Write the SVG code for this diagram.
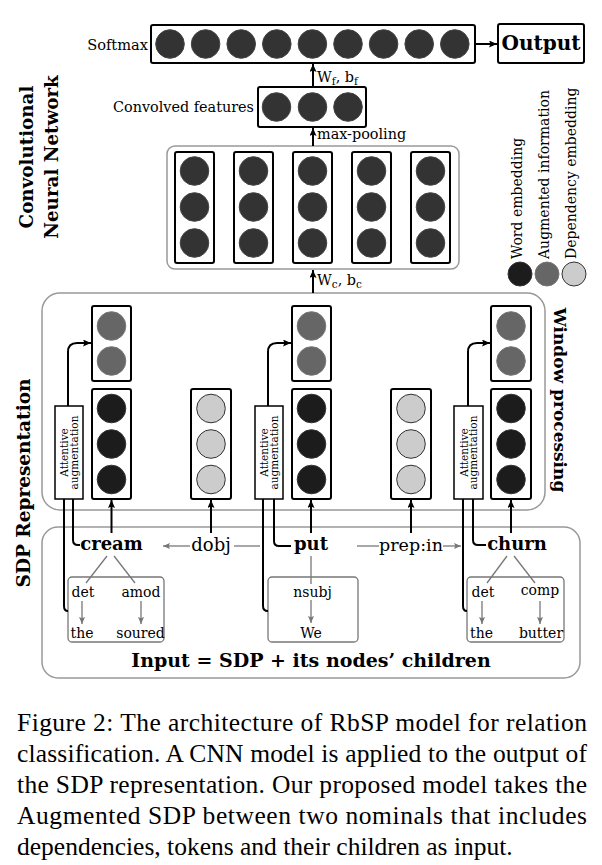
<svg xmlns="http://www.w3.org/2000/svg" width="602" height="865" viewBox="0 0 602 865">
<style>
.t{font-family:"DejaVu Serif",serif;fill:#000}
.b{font-weight:bold}
.box{fill:#fff;stroke:#000;stroke-width:2}
.cont{fill:none;stroke:#999;stroke-width:1.5}
.cbox{fill:#fff;stroke:#777;stroke-width:1.3}
.dk{fill:#333;stroke:#444;stroke-width:1}
.wd{fill:#1c1c1c;stroke:#333;stroke-width:1}
.au{fill:#666;stroke:#777;stroke-width:1}
.dp{fill:#ccc;stroke:#333;stroke-width:1}
.ln{fill:none;stroke:#000;stroke-width:2}
.gl{fill:none;stroke:#777;stroke-width:1.3}
.cap{font-family:"Liberation Serif","Times New Roman",serif;font-size:25.5px;fill:#000}
</style>
<defs>
<marker id="ah" markerWidth="8" markerHeight="7" refX="8" refY="3.5" orient="auto" markerUnits="userSpaceOnUse"><path d="M0,0 L8,3.5 L0,7 L1.5,3.5 Z" fill="#000"/></marker>
<marker id="ahg" markerWidth="7" markerHeight="6" refX="7" refY="3" orient="auto" markerUnits="userSpaceOnUse"><path d="M0,0 L7,3 L0,6 L1.3,3 Z" fill="#777"/></marker>
</defs>

<!-- side labels -->
<g id="labels">
<text class="t b" font-size="18.3" text-anchor="middle" transform="translate(33,157) rotate(-90)">Convolutional</text>
<text class="t b" font-size="18.3" text-anchor="middle" transform="translate(58,157) rotate(-90)">Neural Network</text>
<text class="t b" font-size="18.5" text-anchor="middle" transform="translate(30,483) rotate(-90)">SDP Representation</text>
<text class="t b" font-size="17" text-anchor="middle" transform="translate(554,400) rotate(90)">Window processing</text>
</g>

<!-- containers -->
<g id="containers">
<rect class="cont" x="167" y="146" width="292" height="123" rx="8"/>
<rect class="cont" x="42" y="293" width="503" height="217" rx="18"/>
<rect class="cont" x="42" y="527" width="538" height="151" rx="16"/>
</g>

<!-- softmax -->
<g id="softmax">
<text class="t" font-size="14.6" text-anchor="end" x="148" y="49.5">Softmax</text>
<rect class="box" x="151" y="25" width="324" height="38" rx="2"/>
<circle class="dk" cx="170" cy="44" r="14.3"/>
<circle class="dk" cx="205.6" cy="44" r="14.3"/>
<circle class="dk" cx="241.2" cy="44" r="14.3"/>
<circle class="dk" cx="276.8" cy="44" r="14.3"/>
<circle class="dk" cx="312.4" cy="44" r="14.3"/>
<circle class="dk" cx="348" cy="44" r="14.3"/>
<circle class="dk" cx="383.6" cy="44" r="14.3"/>
<circle class="dk" cx="419.2" cy="44" r="14.3"/>
<circle class="dk" cx="454.8" cy="44" r="14.3"/>
</g>

<g id="output">
<rect class="box" x="498" y="24" width="86" height="39" rx="2"/>
<text class="t b" font-size="20" text-anchor="middle" x="541" y="50">Output</text>
</g>

<g id="convolved">
<text class="t" font-size="14.4" text-anchor="end" x="254" y="112">Convolved features</text>
<rect class="box" x="258" y="87" width="108" height="40" rx="2"/>
<circle class="dk" cx="276.5" cy="107" r="14.3"/>
<circle class="dk" cx="312.5" cy="107" r="14.3"/>
<circle class="dk" cx="348" cy="107" r="14.3"/>
</g>

<g id="cnn">
<rect class="box" x="175" y="152" width="39" height="111" rx="2"/>
<rect class="box" x="234" y="152" width="39" height="111" rx="2"/>
<rect class="box" x="293" y="152" width="39" height="111" rx="2"/>
<rect class="box" x="352" y="152" width="39" height="111" rx="2"/>
<rect class="box" x="411" y="152" width="39" height="111" rx="2"/>
<g>
<circle class="dk" cx="194.5" cy="171" r="14.3"/><circle class="dk" cx="194.5" cy="207" r="14.3"/><circle class="dk" cx="194.5" cy="243" r="14.3"/>
<circle class="dk" cx="253.5" cy="171" r="14.3"/><circle class="dk" cx="253.5" cy="207" r="14.3"/><circle class="dk" cx="253.5" cy="243" r="14.3"/>
<circle class="dk" cx="312.5" cy="171" r="14.3"/><circle class="dk" cx="312.5" cy="207" r="14.3"/><circle class="dk" cx="312.5" cy="243" r="14.3"/>
<circle class="dk" cx="371.5" cy="171" r="14.3"/><circle class="dk" cx="371.5" cy="207" r="14.3"/><circle class="dk" cx="371.5" cy="243" r="14.3"/>
<circle class="dk" cx="430.5" cy="171" r="14.3"/><circle class="dk" cx="430.5" cy="207" r="14.3"/><circle class="dk" cx="430.5" cy="243" r="14.3"/>
</g>
</g>

<g id="legend">
<circle class="wd" cx="520" cy="274" r="12"/>
<circle class="au" cx="547" cy="274" r="12"/>
<circle class="dp" cx="574" cy="274" r="12"/>
<text class="t" font-size="14" transform="translate(522,259) rotate(-90)">Word embedding</text>
<text class="t" font-size="14" transform="translate(549,259) rotate(-90)">Augmented information</text>
<text class="t" font-size="14" transform="translate(576,259) rotate(-90)">Dependency embedding</text>
</g>

<!-- window columns -->
<g id="col-cream">
<rect class="box" x="92" y="306" width="39" height="75" rx="2"/>
<circle class="au" cx="111.5" cy="326" r="14.3"/><circle class="au" cx="111.5" cy="361" r="14.3"/>
<rect class="box" x="92" y="389" width="39" height="110" rx="2"/>
<circle class="wd" cx="111.5" cy="408.5" r="14.3"/><circle class="wd" cx="111.5" cy="444" r="14.3"/><circle class="wd" cx="111.5" cy="479.5" r="14.3"/>
</g>
<g id="att-cream">
<rect fill="#fff" stroke="#000" stroke-width="1.5" x="55" y="406" width="28" height="93"/>
<text class="t" font-size="10.5" text-anchor="middle" transform="translate(68,452.5) rotate(-90)">Attentive</text>
<text class="t" font-size="10.5" text-anchor="middle" transform="translate(77.5,452.5) rotate(-90)">augmentation</text>
</g>
<g id="col-dobj">
<rect class="box" x="191" y="389" width="40" height="110" rx="2"/>
<circle class="dp" cx="211" cy="408.5" r="14.3"/><circle class="dp" cx="211" cy="444" r="14.3"/><circle class="dp" cx="211" cy="479.5" r="14.3"/>
</g>
<g id="col-put">
<rect class="box" x="292" y="306" width="39" height="75" rx="2"/>
<circle class="au" cx="311.5" cy="326" r="14.3"/><circle class="au" cx="311.5" cy="361" r="14.3"/>
<rect class="box" x="292" y="389" width="39" height="110" rx="2"/>
<circle class="wd" cx="311.5" cy="408.5" r="14.3"/><circle class="wd" cx="311.5" cy="444" r="14.3"/><circle class="wd" cx="311.5" cy="479.5" r="14.3"/>
</g>
<g id="att-put">
<rect fill="#fff" stroke="#000" stroke-width="1.5" x="255" y="406" width="28" height="93"/>
<text class="t" font-size="10.5" text-anchor="middle" transform="translate(268,452.5) rotate(-90)">Attentive</text>
<text class="t" font-size="10.5" text-anchor="middle" transform="translate(277.5,452.5) rotate(-90)">augmentation</text>
</g>
<g id="col-prep">
<rect class="box" x="391" y="389" width="40" height="110" rx="2"/>
<circle class="dp" cx="411" cy="408.5" r="14.3"/><circle class="dp" cx="411" cy="444" r="14.3"/><circle class="dp" cx="411" cy="479.5" r="14.3"/>
</g>
<g id="col-churn">
<rect class="box" x="491" y="306" width="40" height="75" rx="2"/>
<circle class="au" cx="511" cy="326" r="14.3"/><circle class="au" cx="511" cy="361" r="14.3"/>
<rect class="box" x="491" y="389" width="40" height="110" rx="2"/>
<circle class="wd" cx="511" cy="408.5" r="14.3"/><circle class="wd" cx="511" cy="444" r="14.3"/><circle class="wd" cx="511" cy="479.5" r="14.3"/>
</g>
<g id="att-churn">
<rect fill="#fff" stroke="#000" stroke-width="1.5" x="454" y="406" width="29" height="93"/>
<text class="t" font-size="10.5" text-anchor="middle" transform="translate(467.5,452.5) rotate(-90)">Attentive</text>
<text class="t" font-size="10.5" text-anchor="middle" transform="translate(477,452.5) rotate(-90)">augmentation</text>
</g>

<!-- SDP words -->
<g id="w-cream"><text class="t b" font-size="18" text-anchor="middle" x="111.5" y="550">cream</text></g>
<g id="w-put"><text class="t b" font-size="18" text-anchor="middle" x="311" y="550">put</text></g>
<g id="w-churn"><text class="t b" font-size="18" text-anchor="middle" x="517" y="550">churn</text></g>
<g id="d-dobj"><text class="t" font-size="18" text-anchor="middle" x="211" y="551">dobj</text></g>
<g id="d-prep"><text class="t" font-size="17.5" text-anchor="middle" x="411" y="551">prep:in</text></g>

<!-- children boxes -->
<g id="ch-cream">
<rect class="cbox" x="68" y="577" width="96" height="65" rx="4"/>
<text class="t" font-size="14" text-anchor="middle" x="83" y="597">det</text>
<text class="t" font-size="14" text-anchor="middle" x="141" y="597">amod</text>
<text class="t" font-size="14" text-anchor="middle" x="82" y="638">the</text>
<text class="t" font-size="14" text-anchor="middle" x="140.5" y="638">soured</text>
</g>
<g id="ch-put">
<rect class="cbox" x="268" y="577" width="90" height="65" rx="4"/>
<text class="t" font-size="14" text-anchor="middle" x="312.5" y="597">nsubj</text>
<text class="t" font-size="14" text-anchor="middle" x="311" y="638">We</text>
</g>
<g id="ch-churn">
<rect class="cbox" x="467" y="577" width="97" height="65" rx="4"/>
<text class="t" font-size="14" text-anchor="middle" x="483" y="597">det</text>
<text class="t" font-size="14" text-anchor="middle" x="540" y="595">comp</text>
<text class="t" font-size="14" text-anchor="middle" x="481.5" y="638">the</text>
<text class="t" font-size="14" text-anchor="middle" x="541" y="638">butter</text>
</g>

<g id="input-label">
<text class="t b" font-size="19" text-anchor="middle" x="311" y="667">Input = SDP + its nodes’ children</text>
</g>

<!-- connectors -->
<g id="connectors">
<path class="ln" d="M475,44 H497" marker-end="url(#ah)" stroke-width="1.8"/>
<path class="ln" d="M313,87 V64" marker-end="url(#ah)" stroke-width="1.8"/>
<path class="ln" d="M313,146 V128" marker-end="url(#ah)" stroke-width="1.8"/>
<path class="ln" d="M313,293 V270" marker-end="url(#ah)" stroke-width="1.8"/>
<!-- attentive to augmented -->
<path class="ln" d="M68,406 V352 Q68,343 77,343 H91" marker-end="url(#ah)"/>
<path class="ln" d="M268,406 V352 Q268,343 277,343 H291" marker-end="url(#ah)"/>
<path class="ln" d="M468,406 V352 Q468,343 477,343 H490" marker-end="url(#ah)"/>
<!-- words/children into attentive -->
<path class="ln" d="M80,545 H78 Q73,545 73,540 V499"/>
<path class="ln" d="M68,611 Q64,611 64,606 V499"/>
<path class="ln" d="M291,546 H279 Q274,546 274,541 V499"/>
<path class="ln" d="M268,611 Q263,611 263,606 V499"/>
<path class="ln" d="M486,545 H478 Q473,545 473,540 V499"/>
<path class="ln" d="M467,611 Q463,611 463,606 V499"/>
<!-- up arrows into window -->
<path class="ln" d="M111.5,533 V500" marker-end="url(#ah)"/>
<path class="ln" d="M211,533 V500" marker-end="url(#ah)"/>
<path class="ln" d="M311,533 V500" marker-end="url(#ah)"/>
<path class="ln" d="M411,533 V500" marker-end="url(#ah)"/>
<path class="ln" d="M511,533 V500" marker-end="url(#ah)"/>
<!-- dependency edges -->
<path class="gl" d="M260,546 H234"/>
<path class="gl" d="M190,546 H163" marker-end="url(#ahg)"/>
<path class="gl" d="M357,546 H379"/>
<path class="gl" d="M443,546 H461" marker-end="url(#ahg)"/>
<!-- children edges -->
<path class="gl" d="M107,556 L86,583"/>
<path class="gl" d="M114,556 L135,583"/>
<path class="gl" d="M82,601 V624" marker-end="url(#ahg)"/>
<path class="gl" d="M141,601 V624" marker-end="url(#ahg)"/>
<path class="gl" d="M311,556 V584"/>
<path class="gl" d="M311,600 V623" marker-end="url(#ahg)"/>
<path class="gl" d="M507,556 L487,583"/>
<path class="gl" d="M514,556 L535,583"/>
<path class="gl" d="M482,601 V624" marker-end="url(#ahg)"/>
<path class="gl" d="M540,601 V624" marker-end="url(#ahg)"/>
</g>

<!-- W labels -->
<g id="weights">
<text class="t" font-size="14.4" x="317" y="82">W<tspan font-size="10.5" dy="3">f</tspan><tspan dy="-3">, b</tspan><tspan font-size="10.5" dy="3">f</tspan></text>
<text class="t" font-size="14.4" x="317" y="139">max-pooling</text>
<text class="t" font-size="14.4" x="317" y="285">W<tspan font-size="10.5" dy="3">c</tspan><tspan dy="-3">, b</tspan><tspan font-size="10.5" dy="3">c</tspan></text>
</g>

<!-- caption -->
<g id="caption">
<text class="cap" x="17" y="731" textLength="570">Figure 2: The architecture of RbSP model for relation</text>
<text class="cap" x="17" y="762" textLength="570">classification. A CNN model is applied to the output of</text>
<text class="cap" x="17" y="793" textLength="570">the SDP representation. Our proposed model takes the</text>
<text class="cap" x="17" y="824" textLength="570">Augmented SDP between two nominals that includes</text>
<text class="cap" x="17" y="855">dependencies, tokens and their children as input.</text>
</g>
</svg>
